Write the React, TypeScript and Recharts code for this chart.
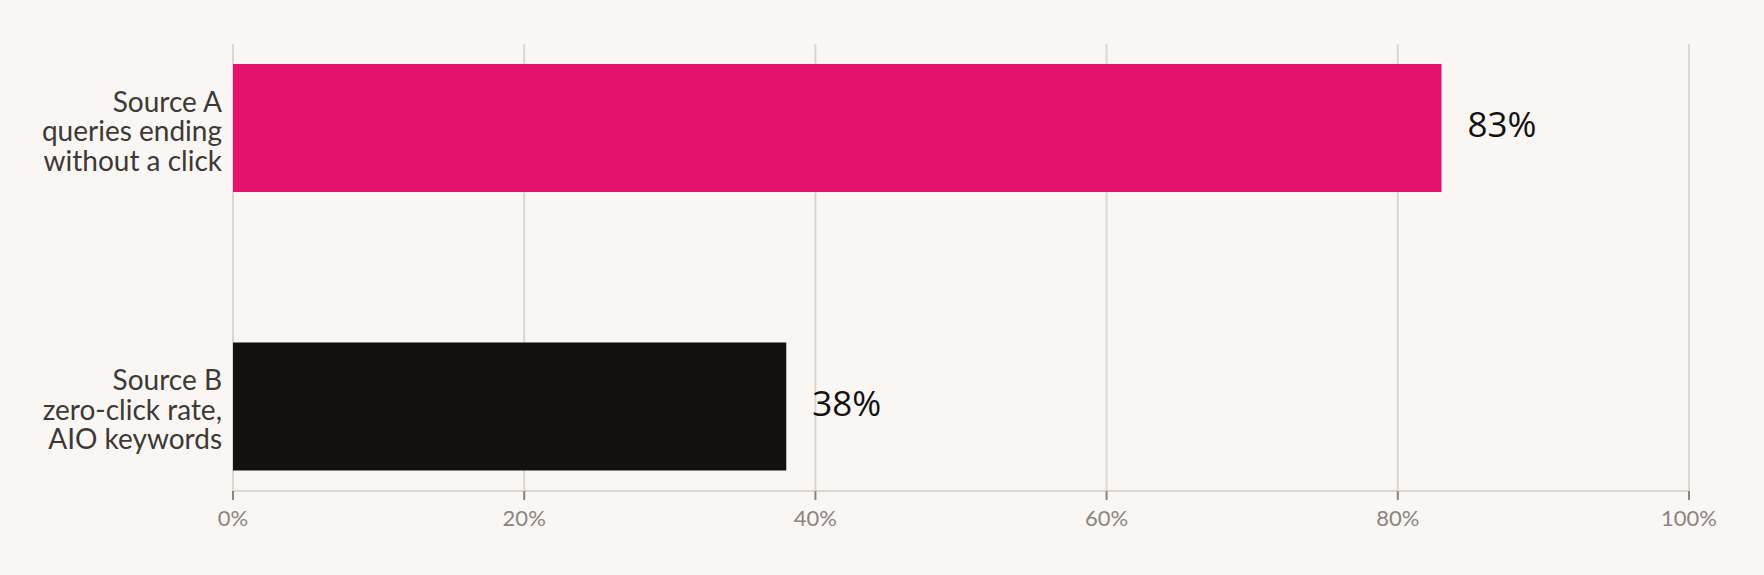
import { BarChart, Bar, XAxis, YAxis, CartesianGrid, LabelList, Cell } from "recharts"

const sources = ["Source A", "Source B"]
const descriptions = [
  ["queries ending", "without a click"],
  ["zero-click rate,", "AIO keywords"],
]
const shares = [83, 38]
const barColors = ["#e4126b", "#13110f"]
const xTicks = [0, 20, 40, 60, 80, 100]

const data = sources.map((name, i) => ({ name, value: shares[i] }))

// left edge of the plot, where the category labels end
const PLOT_LEFT = 233

function CategoryTick(props: any) {
  const { y, index } = props
  const lines = [sources[index], ...descriptions[index]]
  const right = PLOT_LEFT - 11
  return (
    <text textAnchor="end" fontFamily="Lato" fontSize={28} fill="#3d3935">
      {lines.map((line, i) => (
        <tspan key={i} x={right} y={y + 13 + (i - 1) * 29.5}>
          {line}
        </tspan>
      ))}
    </text>
  )
}

function ValueLabel(props: any) {
  const { x, y, width, height, value } = props
  return (
    <text
      x={x + width + 26}
      y={y + height / 2 + 9}
      fontFamily="Open Sans"
      fontSize={35}
      fill="#111111"
    >
      {value}%
    </text>
  )
}

export default function App() {
  return (
    <div
      style={{
        position: "absolute",
        left: 0,
        top: 0,
        width: 1764,
        height: 575,
        background: "#f9f6f3",
      }}
    >
      <BarChart
        width={1764}
        height={575}
        data={data}
        layout="vertical"
        margin={{ top: 44, right: 75, bottom: 0, left: 0 }}
      >
        <CartesianGrid horizontal={false} stroke="#ddd6cf" strokeWidth={2} />
        <XAxis
          type="number"
          domain={[0, 100]}
          ticks={xTicks}
          tickFormatter={(v) => `${v}%`}
          height={84}
          stroke="#ddd6cf"
          strokeWidth={2}
          tickLine={{ stroke: "#8a8380", strokeWidth: 2 }}
          tickSize={9}
          tickMargin={10}
          tick={{ fontFamily: "Lato", fontSize: 22, fill: "#8c8480" }}
          interval={0}
        />
        <YAxis
          type="category"
          dataKey="name"
          width={PLOT_LEFT}
          axisLine={false}
          tickLine={false}
          padding={{ top: -55, bottom: -55 }}
          tick={<CategoryTick />}
        />
        <Bar dataKey="value" barSize={128} isAnimationActive={false}>
          {data.map((d, i) => (
            <Cell key={d.name} fill={barColors[i]} />
          ))}
          <LabelList dataKey="value" content={<ValueLabel />} />
        </Bar>
      </BarChart>
    </div>
  )
}
